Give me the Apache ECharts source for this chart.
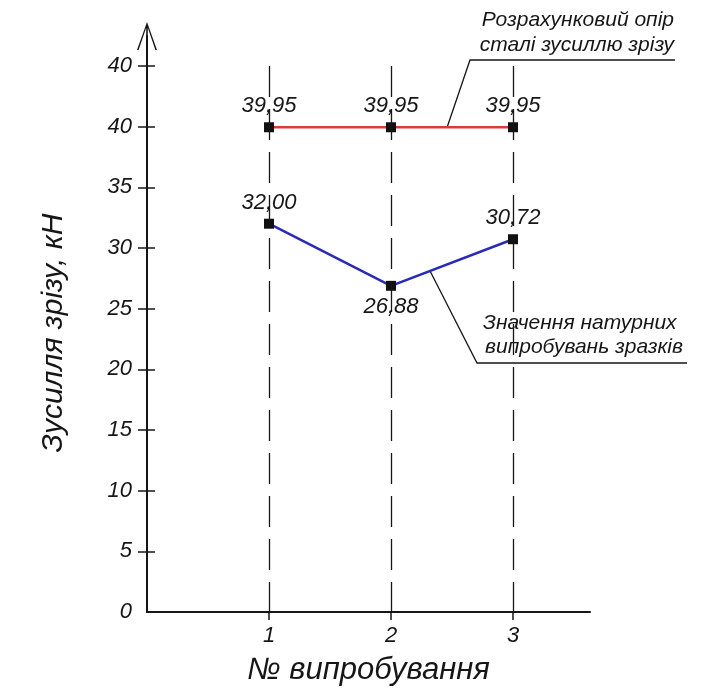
<!DOCTYPE html>
<html>
<head>
<meta charset="utf-8">
<script src="https://cdn.jsdelivr.net/npm/echarts@6/dist/echarts.min.js"></script>
<style>
  html, body { margin: 0; padding: 0; background: #ffffff; }
  #chart { width: 719px; height: 693px; }
</style>
</head>
<body>
<div id="chart"></div>
<script>
// Trial numbers along the x axis
const trials = [1, 2, 3];
// Design shear resistance of the steel, kN
const designResistance = [39.95, 39.95, 39.95];
// Shear force measured in the full-scale tests, kN
const testValues = [32.00, 26.88, 30.72];
// Y-axis tick positions and the labels printed beside them
const yTickValues = [0, 5, 10, 15, 20, 25, 30, 35, 40, 45];
const yTickLabels = ['0', '5', '10', '15', '20', '25', '30', '35', '40', '40'];

const FONT = "'Liberation Sans', Arial, sans-serif";
const INK = '#161616';

const yLabelMap = {};
yTickValues.forEach((v, i) => { yLabelMap[v] = yTickLabels[i]; });

const fmt = v => v.toFixed(2).replace('.', ',');

const chart = echarts.init(document.getElementById('chart'), null, { renderer: 'canvas' });

const yTop = yTickValues[yTickValues.length - 1];

// Open arrowhead (with stem) for the top of the y axis
const arrowPath = 'path://M10,0 L20,28 L18.4,28 L10.8,5.83 L10.8,14 L9.2,14 L9.2,5.83 L1.6,28 L0,28 Z';

const valueLabelStyle = {
  fontFamily: FONT, fontStyle: 'italic', fontSize: 22, color: INK
};

const option = {
  animation: false,
  backgroundColor: '#ffffff',
  grid: { left: 147, right: 129, top: 36, bottom: 81 },
  xAxis: {
    type: 'value',
    min: 0,
    max: 3.631,
    name: '№ випробування',
    nameLocation: 'middle',
    nameGap: 43,
    nameTextStyle: { fontFamily: FONT, fontStyle: 'italic', fontSize: 31, color: INK },
    axisLine: { show: true, lineStyle: { color: INK, width: 2 } },
    axisTick: { show: true, length: 8, customValues: trials, lineStyle: { color: INK, width: 1.5 } },
    axisLabel: Object.assign({ customValues: trials, margin: 13 }, valueLabelStyle),
    splitLine: { show: false }
  },
  yAxis: [
    {
      type: 'value',
      min: 0,
      max: 47.47,
      name: 'Зусилля зрізу, кН',
      nameLocation: 'middle',
      nameGap: 78,
      nameTextStyle: {
        fontFamily: FONT, fontStyle: 'italic', fontSize: 30, color: INK,
        padding: [0, 18, 0, 0]
      },
      axisLine: {
        show: true,
        lineStyle: { color: INK, width: 2 },
        symbol: ['none', arrowPath],
        symbolSize: [20, 28]
      },
      axisTick: { show: true, length: 9, customValues: yTickValues.slice(1), lineStyle: { color: INK, width: 1.5 } },
      axisLabel: Object.assign({
        customValues: yTickValues,
        margin: 15,
        formatter: v => yLabelMap[v] !== undefined ? yLabelMap[v] : ''
      }, valueLabelStyle),
      splitLine: { show: false }
    },
    {
      // inner half of the cross ticks on the y axis
      type: 'value',
      min: 0,
      max: 47.47,
      position: 'left',
      axisLine: { show: false },
      axisTick: { show: true, inside: true, length: 8, customValues: yTickValues.slice(1), lineStyle: { color: INK, width: 1.5 } },
      axisLabel: { show: false },
      splitLine: { show: false }
    }
  ],
  series: [
    {
      // vertical dashed guides at each trial
      type: 'line',
      data: [],
      z: 1,
      markLine: {
        silent: true,
        symbol: ['none', 'none'],
        label: { show: false },
        lineStyle: { color: INK, width: 1.3, type: [31, 12] },
        data: trials.map(t => [{ coord: [t, yTop] }, { coord: [t, 0] }])
      }
    },
    {
      name: 'Розрахунковий опір сталі зусиллю зрізу',
      type: 'line',
      z: 3,
      data: trials.map((t, i) => [t, designResistance[i]]),
      symbol: 'rect',
      symbolSize: 10,
      itemStyle: { color: '#111111' },
      lineStyle: { color: '#d93a3a', width: 2.5 },
      label: Object.assign({
        show: true, position: 'top', distance: 5,
        formatter: p => fmt(p.value[1])
      }, valueLabelStyle)
    },
    {
      name: 'Значення натурних випробувань зразків',
      type: 'line',
      z: 3,
      // lowest test point gets its label below, the others above
      data: trials.map((t, i) => ({
        value: [t, testValues[i]],
        label: { position: testValues[i] === Math.min(...testValues) ? 'bottom' : 'top', distance: 5 }
      })),
      symbol: 'rect',
      symbolSize: 10,
      itemStyle: { color: '#111111' },
      lineStyle: { color: '#2a2ab8', width: 2.5 },
      label: Object.assign({
        show: true,
        formatter: p => fmt(p.value[1])
      }, valueLabelStyle)
    }
  ]
};

chart.setOption(option);

// Callout leader lines anchored on the plotted lines
function lerp(a, b, t) { return a + (b - a) * t; }
const redAnchorX = 2.46;
const redAnchor = chart.convertToPixel({ seriesIndex: 1 }, [redAnchorX, designResistance[1]]);
const blueAnchorX = 2.32;
const blueAnchorY = lerp(testValues[1], testValues[2], blueAnchorX - trials[1]);
const blueAnchor = chart.convertToPixel({ seriesIndex: 2 }, [blueAnchorX, blueAnchorY]);

const calloutText = (x, y, text, align) => ({
  type: 'text',
  x: x, y: y,
  style: {
    text: text,
    font: 'italic 21px ' + FONT,
    fill: INK,
    align: align,
    verticalAlign: 'middle'
  }
});

chart.setOption({
  graphic: [
    {
      type: 'polyline',
      shape: { points: [redAnchor, [470, 60], [675, 60]] },
      style: { stroke: INK, lineWidth: 1.3, fill: null }
    },
    calloutText(674, 20, 'Розрахунковий опір', 'right'),
    calloutText(674, 45, 'сталі зусиллю зрізу', 'right'),
    {
      type: 'polyline',
      shape: { points: [blueAnchor, [477, 363], [687, 363]] },
      style: { stroke: INK, lineWidth: 1.3, fill: null }
    },
    calloutText(483, 323, 'Значення натурних', 'left'),
    calloutText(485, 347, 'випробувань зразків', 'left')
  ]
});
</script>
</body>
</html>
